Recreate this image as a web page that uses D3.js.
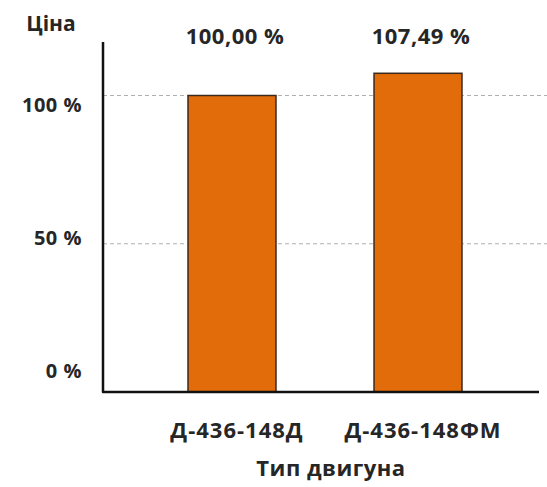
<!DOCTYPE html>
<html>
<head>
<meta charset="utf-8">
<script src="https://cdn.jsdelivr.net/npm/d3@7"></script>
<style>
  html, body { margin: 0; padding: 0; background: #fff; }
  svg { display: block; }
  text { font-family: "Open Sans", sans-serif; font-weight: 700; fill: #262626; }
</style>
</head>
<body>
<svg id="chart" width="547" height="487"></svg>
<script>
// Engine types and relative price (%)
const engines = ["Д-436-148Д", "Д-436-148ФМ"];
const prices = [100.00, 107.49];
const priceLabels = ["100,00 %", "107,49 %"];
const tickValues = [0, 50, 100];
const tickLabels = ["0 %", "50 %", "100 %"];
const yTitle = "Ціна";
const xTitle = "Тип двигуна";

const svg = d3.select("#chart");

const x = d3.scaleBand()
  .domain(engines)
  .range([111, 539])
  .paddingInner(0.527)
  .paddingOuter(0.414);

const y = d3.scaleLinear().domain([0, 100]).range([392, 95.5]);
// tick labels sit slightly apart from their gridlines
const yText = d3.scaleLinear().domain([0, 100]).range([371, 105]);

// dashed gridlines
svg.append("g")
  .selectAll("line")
  .data(tickValues.filter(v => v > 0))
  .join("line")
  .attr("x1", 103).attr("x2", 547)
  .attr("y1", d => y(d)).attr("y2", d => y(d))
  .attr("stroke", "#b0b0b0")
  .attr("stroke-width", 1)
  .attr("stroke-dasharray", "4,3");

// bars
svg.append("g")
  .selectAll("rect")
  .data(engines)
  .join("rect")
  .attr("x", d => x(d))
  .attr("width", x.bandwidth())
  .attr("y", (d, i) => y(prices[i]))
  .attr("height", (d, i) => y(0) - y(prices[i]))
  .attr("fill", "#E36C0A")
  .attr("stroke", "#3a2a1e")
  .attr("stroke-width", 1.5);

// axes
svg.append("path")
  .attr("d", `M103,42 L103,${y(0)} L539,${y(0)}`)
  .attr("fill", "none")
  .attr("stroke", "#111")
  .attr("stroke-width", 2.5)
  .attr("stroke-linejoin", "round");

// y tick labels
svg.append("g")
  .selectAll("text")
  .data(tickValues)
  .join("text")
  .attr("x", 82)
  .attr("y", d => yText(d))
  .attr("dy", "0.35em")
  .attr("text-anchor", "end")
  .attr("font-size", 20)
  .attr("letter-spacing", 0.5)
  .text((d, i) => tickLabels[i]);

// value labels above the plot
svg.append("g")
  .selectAll("text")
  .data(engines)
  .join("text")
  .attr("x", d => x(d) + x.bandwidth() / 2 + 3)
  .attr("y", 44)
  .attr("text-anchor", "middle")
  .attr("font-size", 22)
  .attr("letter-spacing", 0.5)
  .text((d, i) => priceLabels[i]);

// category labels
svg.append("g")
  .selectAll("text")
  .data(engines)
  .join("text")
  .attr("x", d => x(d) + x.bandwidth() / 2 + 5)
  .attr("y", 438)
  .attr("text-anchor", "middle")
  .attr("font-size", 22)
  .attr("letter-spacing", 1)
  .text(d => d);

// axis titles
svg.append("text")
  .attr("x", 51).attr("y", 31)
  .attr("text-anchor", "middle")
  .attr("font-size", 21)
  .text(yTitle);

svg.append("text")
  .attr("x", 331).attr("y", 476)
  .attr("text-anchor", "middle")
  .attr("font-size", 22)
  .attr("letter-spacing", 0.5)
  .text(xTitle);
</script>
</body>
</html>
